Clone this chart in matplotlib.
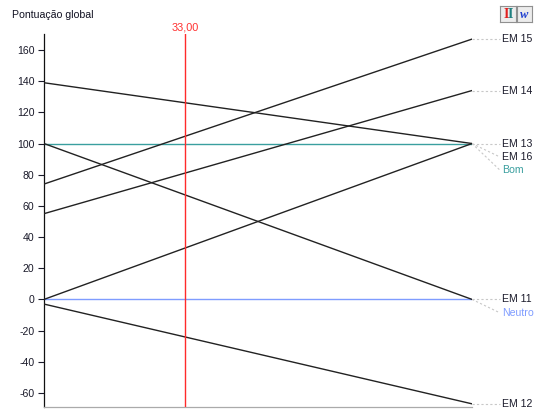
import matplotlib
matplotlib.use("Agg")
import matplotlib.pyplot as plt

plt.rcParams['font.family'] = ['Liberation Sans', 'DejaVu Sans']

# Global score of each alternative as the criterion weight goes 0 -> 100
alternatives = ["EM 13", "EM 11", "EM 15", "EM 14", "EM 16", "EM 12"]
score_at_0 = [139, 100, 74, 55, 0, -3]
score_at_100 = [100, 0, 167, 134, 100, -67]

# Reference levels
ref_names = ["Bom", "Neutro"]
ref_values = [100, 0]
ref_colors = ["#3a9f9f", "#7f9cff"]

current_weight = 33.0
yticks = [-60, -40, -20, 0, 20, 40, 60, 80, 100, 120, 140, 160]

# Right-hand label positions (data units) for the legend column
label_order = ["EM 15", "EM 14", "EM 13", "EM 16", "Bom", "EM 11", "Neutro", "EM 12"]
label_y = [167, 134, 100, 91.4, 83.0, 0, -8.6, -67]

fig = plt.figure(figsize=(5.34, 4.09), dpi=100)
ax = fig.add_axes([0.0824, 0.005, 0.8015, 0.912])
ax.set_xlim(0, 100)
ax.set_ylim(-69, 170.3)

for v, c in zip(ref_values, ref_colors):
    ax.plot([0, 100], [v, v], color=c, lw=1.0, zorder=2)

for a, b in zip(score_at_0, score_at_100):
    ax.plot([0, 100], [a, b], color="#222222", lw=1.0, zorder=3)

ax.axvline(current_weight, color="#ff2a2a", lw=1.0, zorder=4)
ax.text(current_weight, 1.003, f"{current_weight:.2f}".replace(".", ","),
        transform=ax.get_xaxis_transform(), ha="center", va="bottom",
        color="#ff3030", fontsize=7.8)

# Right-hand labels with dashed leader lines
end_values = dict(zip(alternatives, score_at_100))
end_values.update(dict(zip(ref_names, ref_values)))
label_colors = {"Bom": ref_colors[0], "Neutro": ref_colors[1]}
for name, ly in zip(label_order, label_y):
    ey = end_values[name]
    ax.plot([100, 106.5], [ey, ly], color="#c8c8c8", lw=0.8, ls=(0, (2, 2)),
            clip_on=False, zorder=1)
    ax.text(107, ly, name, ha="left", va="center", fontsize=7.6,
            color=label_colors.get(name, "#1a1a2a"), clip_on=False)

ax.set_yticks(yticks)
ax.set_yticklabels([str(t) for t in yticks])
ax.tick_params(axis="y", direction="out", length=4, width=0.8, labelsize=7.6,
               colors="#1a1a2a", pad=3)
ax.set_xticks([])
for s in ["top", "right"]:
    ax.spines[s].set_visible(False)
ax.spines["left"].set_color("#111111")
ax.spines["left"].set_linewidth(0.9)
ax.spines["bottom"].set_color("#aaaaaa")
ax.spines["bottom"].set_linewidth(0.9)

fig.text(12 / 534, 1 - 15 / 409, "Pontuação global", ha="left", va="center",
         fontsize=7.6, color="#111122")

# Small toolbar buttons in the top-right corner
b1 = fig.add_axes([500 / 534, 1 - 22 / 409, 16 / 534, 16 / 409])
b2 = fig.add_axes([517 / 534, 1 - 22 / 409, 15 / 534, 16 / 409])
for bx in (b1, b2):
    bx.set_xticks([]); bx.set_yticks([])
    bx.set_facecolor("#ececec")
    for s in bx.spines.values():
        s.set_color("#909090"); s.set_linewidth(0.8)
b1.text(0.36, 0.48, "I", ha="center", va="center", color="#e02020",
        fontsize=10, fontweight="bold", family="Liberation Serif")
b1.text(0.64, 0.48, "I", ha="center", va="center", color="#208080",
        fontsize=10, fontweight="bold", family="Liberation Serif")
b2.text(0.5, 0.45, "w", ha="center", va="center", color="#2040d0",
        fontsize=9, fontweight="bold", style="italic", family="Liberation Serif")

fig.savefig("out.png", dpi=100)
